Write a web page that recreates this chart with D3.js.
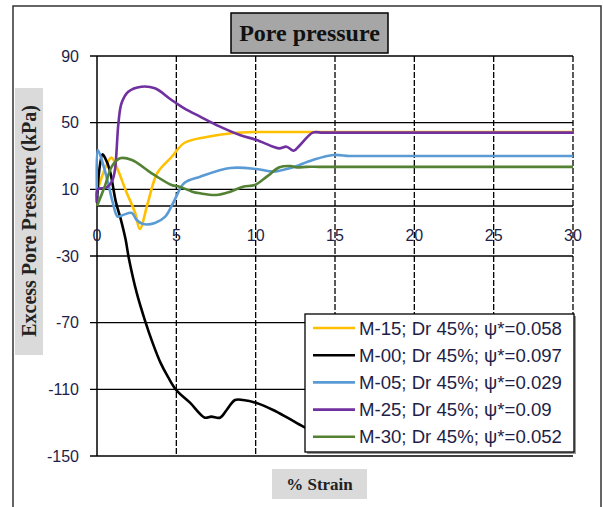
<!DOCTYPE html>
<html>
<head>
<meta charset="utf-8">
<script src="https://cdn.jsdelivr.net/npm/d3@7.9.0/dist/d3.min.js"></script>
<style>
  body { margin: 0; background: #fff; }
  svg { display: block; }
</style>
</head>
<body>
<svg id="chart" width="603" height="507"></svg>
<script>
// tick values
const xTicks = [0, 5, 10, 15, 20, 25, 30];
const yTicks = [-150, -110, -70, -30, 10, 50, 90];

// M-15 (yellow)
const m15Strain = [0, 0.4, 0.9, 1.3, 1.8, 2.4, 2.7, 3.2, 3.8, 4.7, 5.5, 6.9, 8.6, 10, 11.5, 13, 15, 20, 25, 30];
const m15Pu = [8, 20, 29, 22, 9.6, -4, -13.8, 1.8, 19.8, 29.4, 37.8, 41.4, 43.8, 44.4, 44.4, 44.4, 44.4, 44.4, 44.4, 44.4];

// M-00 (black)
const m00Strain = [0, 0.15, 0.35, 0.5, 0.8, 1.2, 1.5, 1.8, 2.0, 2.5, 3.0, 3.5, 4.0, 4.5, 5.0, 5.86, 6.8, 7.2, 7.75, 8.17, 8.7, 9.2, 10.06, 11.1, 12.0, 13.0, 14.0];
const m00Pu = [2, 22, 31, 29, 21.6, 2, -8, -20, -31, -52, -68, -82, -94, -103, -110.5, -118, -127, -126.4, -127, -122.4, -116.4, -116.4, -118.2, -122.4, -127, -132.4, -137];

// M-05 (blue)
const m05Strain = [0, 0.05, 0.3, 0.7, 1.0, 1.3, 1.64, 2.2, 2.5, 2.9, 3.65, 4.3, 4.8, 5.5, 6.5, 8.4, 10.06, 11.1, 12.2, 13.6, 14.9, 15.9, 17, 20, 25, 30];
const m05Pu = [6, 33.6, 27.6, 13.8, 1.8, -6.4, -5.4, -4.2, -8.4, -10.8, -10.2, -6.4, 1.8, 13.8, 17.6, 22.8, 22.2, 20.6, 22.8, 27.6, 30.6, 30, 30, 30, 30, 30];

// M-25 (purple)
const m25Strain = [0, 0.05, 0.6, 0.95, 1.13, 1.35, 1.55, 1.97, 2.8, 3.65, 4.7, 5.5, 6.5, 7.75, 9.0, 10.06, 11.1, 11.5, 11.95, 12.4, 12.8, 13.6, 14.2, 15, 17, 20, 25, 30];
const m25Pu = [2, 10, 11, 15, 21.6, 49.6, 61.8, 68.6, 71.6, 70.6, 63.6, 58.6, 53.6, 47.6, 42.6, 39.6, 35.6, 34.6, 35.6, 33.2, 36.6, 44, 44, 44, 44, 44, 44, 44];

// M-30 (green)
const m30Strain = [0, 0.5, 0.93, 1.45, 2.2, 3.45, 4.7, 5.2, 6.0, 6.5, 7.5, 8.4, 9.2, 9.95, 10.7, 11.5, 12.2, 12.6, 13.2, 14, 15, 20, 25, 30];
const m30Pu = [0, 12, 23.6, 28.6, 27.6, 19.6, 12.6, 11.6, 8.6, 7.6, 6.6, 8.6, 11.6, 12.6, 17.6, 23.2, 24, 23.2, 23.5, 23.5, 23.5, 23.5, 23.5, 23.5];

const seriesNames = ["M-15; Dr 45%; ψ*=0.058", "M-00; Dr 45%; ψ*=0.097", "M-05; Dr 45%; ψ*=0.029", "M-25; Dr 45%; ψ*=0.09", "M-30; Dr 45%; ψ*=0.052"];
const seriesColors = ["#ffc000", "#000000", "#5b9bd5", "#7030a0", "#548235"];

let series = [
    [m15Strain, m15Pu],
    [m00Strain, m00Pu],
    [m05Strain, m05Pu],
    [m25Strain, m25Pu],
    [m30Strain, m30Pu]
].map(([xs, ys], i) => ({
    name: seriesNames[i],
    color: seriesColors[i],
    points: xs.map((x, j) => ({ x: x, y: ys[j] }))
}));

const svg = d3.select("#chart");
const x = d3.scaleLinear().domain([0, 30]).range([97, 573]);
const y = d3.scaleLinear().domain([-150, 90]).range([456, 56]);
const labelColor = "#1e1e48";

// outer chart border
svg.append("rect")
    .attr("x", 13).attr("y", 6)
    .attr("width", 588).attr("height", 510)
    .attr("fill", "none").attr("stroke", "#333").attr("stroke-width", 1.5);

// horizontal gridlines (solid) with ticks out to the left
svg.append("g").selectAll("line")
    .data(yTicks)
    .enter().append("line")
    .attr("x1", 90).attr("x2", x(30))
    .attr("y1", d => y(d)).attr("y2", d => y(d))
    .attr("stroke", "#000").attr("stroke-width", 1.3);

// vertical gridlines (dashed)
svg.append("g").selectAll("line")
    .data(xTicks.slice(1))
    .enter().append("line")
    .attr("x1", d => x(d)).attr("x2", d => x(d))
    .attr("y1", y(90)).attr("y2", y(-150))
    .attr("stroke", "#000").attr("stroke-width", 1.3)
    .attr("stroke-dasharray", "6,2");

// axes: y at strain 0, x at pressure 0
svg.append("line")
    .attr("x1", x(0)).attr("x2", x(0))
    .attr("y1", y(90)).attr("y2", y(-150))
    .attr("stroke", "#000").attr("stroke-width", 1.5);
svg.append("line")
    .attr("x1", x(0)).attr("x2", x(30))
    .attr("y1", y(0)).attr("y2", y(0))
    .attr("stroke", "#000").attr("stroke-width", 1.5);

// tick labels
svg.append("g").selectAll("text")
    .data(yTicks)
    .enter().append("text")
    .attr("x", 79).attr("y", d => y(d))
    .attr("text-anchor", "end").attr("dominant-baseline", "central")
    .attr("font-family", "Liberation Sans, Arial, sans-serif")
    .attr("font-size", 16).attr("fill", labelColor)
    .text(d => d);

svg.append("g").selectAll("text")
    .data(xTicks)
    .enter().append("text")
    .attr("x", d => x(d)).attr("y", 235)
    .attr("text-anchor", "middle").attr("dominant-baseline", "central")
    .attr("font-family", "Liberation Sans, Arial, sans-serif")
    .attr("font-size", 16).attr("fill", labelColor)
    .text(d => d);

// data lines
let line = d3.line()
    .x(d => x(d.x))
    .y(d => y(d.y))
    .curve(d3.curveCatmullRom.alpha(0.5));

svg.append("g").selectAll("path")
    .data(series)
    .enter().append("path")
    .attr("d", d => line(d.points))
    .attr("fill", "none")
    .attr("stroke", d => d.color)
    .attr("stroke-width", 2.6)
    .attr("stroke-linejoin", "round");

// legend box (white, covers the end of the black curve)
const legend = svg.append("g");
legend.append("rect")
    .attr("x", 307).attr("y", 316).attr("width", 269).attr("height", 138)
    .attr("fill", "#999");
legend.append("rect")
    .attr("x", 305).attr("y", 314).attr("width", 269).attr("height", 138)
    .attr("fill", "#fff").attr("stroke", "#000").attr("stroke-width", 1.3);

series.forEach((s, i) => {
    const ly = 328 + i * 27.2;
    legend.append("line")
        .attr("x1", 313).attr("x2", 355)
        .attr("y1", ly).attr("y2", ly)
        .attr("stroke", s.color).attr("stroke-width", 2.6);
    legend.append("text")
        .attr("x", 359).attr("y", ly)
        .attr("dominant-baseline", "central")
        .attr("font-family", "Liberation Sans, Arial, sans-serif")
        .attr("font-size", 18.6).attr("fill", labelColor)
        .text(s.name);
});

// chart title
svg.append("rect")
    .attr("x", 231).attr("y", 13).attr("width", 157).attr("height", 40)
    .attr("fill", "#a6a6a6").attr("stroke", "#000").attr("stroke-width", 1.5);
svg.append("text")
    .attr("x", 309.5).attr("y", 33)
    .attr("text-anchor", "middle").attr("dominant-baseline", "central")
    .attr("font-family", "Liberation Serif, Times New Roman, serif")
    .attr("font-weight", "bold").attr("font-size", 24).attr("fill", "#111")
    .text("Pore pressure");

// axis titles on light grey boxes
svg.append("rect")
    .attr("x", 15).attr("y", 88).attr("width", 28).attr("height", 267)
    .attr("fill", "#dadada");
svg.append("text")
    .attr("transform", "translate(29,221) rotate(-90)")
    .attr("text-anchor", "middle").attr("dominant-baseline", "central")
    .attr("font-family", "Liberation Serif, Times New Roman, serif")
    .attr("font-weight", "bold").attr("font-size", 20).attr("fill", "#222")
    .text("Excess Pore Pressure (kPa)");

svg.append("rect")
    .attr("x", 272).attr("y", 469).attr("width", 95).attr("height", 30)
    .attr("fill", "#dadada");
svg.append("text")
    .attr("x", 319.5).attr("y", 484)
    .attr("text-anchor", "middle").attr("dominant-baseline", "central")
    .attr("font-family", "Liberation Serif, Times New Roman, serif")
    .attr("font-weight", "bold").attr("font-size", 17).attr("fill", "#222")
    .text("% Strain");
</script>
</body>
</html>
